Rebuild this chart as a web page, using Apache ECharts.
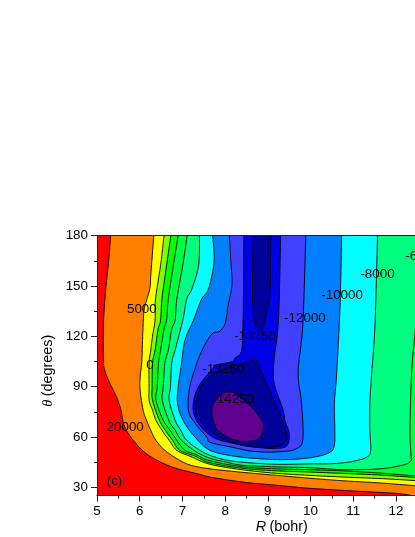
<!DOCTYPE html>
<html><head><meta charset="utf-8">
<style>html,body{margin:0;padding:0;background:#fff;overflow:hidden}#c{width:415px;height:537px}</style>
<script src="https://cdn.jsdelivr.net/npm/echarts@6/dist/echarts.min.js"></script>
</head><body><div id="c"></div>
<script>
// Contours, as [R (bohr), theta (degrees)]
const c20000=[[5.32,180],[5.28,166.7],[5.20,146.4],[5.15,126.7],[5.15,107],[5.18,99.8],[5.30,92.1],[5.46,83.7],[5.56,76],[5.62,68.2],[5.73,62.2],[5.99,53.9],[6.28,47.9],[6.78,41.9],[7.41,37.7],[7.65,36.1],[8.42,33.1],[9.22,31.2],[9.99,29.4],[11.16,27.6],[12.0,26.4],[12.4,25]];
const c5000=[[6.33,180],[6.29,166.7],[6.26,156.5],[6.24,148.8],[6.17,142.2],[6.10,135],[6.07,120.1],[6.05,105.2],[6.01,95.6],[6.01,87.9],[6.08,76],[6.16,70],[6.26,64],[6.38,58],[6.59,52],[6.94,46],[7.22,43],[7.65,41],[8.42,38.9],[9.22,37.1],[9.99,35.4],[10.76,33.9],[11.56,32.7],[12.33,31.2],[13,29.7]];
const c0=[[6.57,180],[6.49,162.5],[6.37,142.2],[6.36,129.7],[6.30,120.1],[6.26,111.8],[6.22,104],[6.22,89.7],[6.22,81.9],[6.30,76],[6.38,70],[6.52,64],[6.69,58],[6.87,52],[7.18,48.5],[7.65,43.7],[8.42,40.4],[9.22,38.3],[9.99,37.1],[10.76,36.1],[11.56,35.3],[12.33,34.2],[13,33]];
const cm2000=[[6.73,180],[6.63,162.5],[6.52,142.2],[6.49,129.7],[6.43,124.3],[6.36,111.8],[6.30,104],[6.29,89.7],[6.30,81.9],[6.46,70],[6.60,64],[6.77,58],[6.94,52],[7.30,48.5],[7.65,44.6],[8.42,41.3],[9.22,39.8],[9.99,39.1],[10.76,38.3],[11.56,37.4],[12.33,36.1],[13,34.7]];
const cm4000=[[6.90,180],[6.79,162.5],[6.67,142.2],[6.63,129.7],[6.57,124.3],[6.49,111.8],[6.44,104],[6.41,89.7],[6.38,81.9],[6.55,70],[6.71,64],[6.87,58],[7.06,52],[7.30,49.7],[7.65,45.8],[8.42,42.2],[9.22,41],[9.99,40.5],[10.76,39.8],[11.56,38.6],[12.33,37.1],[13,36]];
const cm6000=[[7.11,180],[7.01,162.5],[6.87,142.2],[6.83,129.7],[6.75,124.3],[6.67,111.8],[6.59,104],[6.55,89.7],[6.53,81.9],[6.68,70],[6.83,64],[6.98,58],[7.30,51.5],[7.65,47.3],[8.00,45.2],[8.42,43.1],[9.22,42.2],[9.99,41.7],[10.76,40.5],[11.56,40.9],[12.03,42.5],[12.33,45.1],[12.35,50.3],[12.33,64],[12.37,99.8],[12.47,129.7],[12.56,180]];
const cm8000=[[7.40,180],[7.38,162.5],[7.22,148.2],[7.10,142.2],[7.01,129.7],[6.83,111.8],[6.75,104],[6.72,89.7],[6.69,81.9],[6.83,70],[6.96,64],[7.10,58],[7.37,52.7],[7.65,49],[8.00,46.4],[8.42,44.9],[9.22,43.7],[9.99,44],[10.53,44.1],[11.0,45.5],[11.32,48],[11.41,52],[11.39,64],[11.39,80.1],[11.43,96.8],[11.51,126.7],[11.57,180]];
const cm10000=[[7.71,180],[7.74,164.3],[7.61,148.2],[7.45,142.2],[7.26,129.7],[7.06,117.7],[6.98,104],[6.90,89.7],[6.89,78.9],[7.04,68.8],[7.30,59.8],[7.65,52],[8.23,48.5],[8.82,47],[9.40,46.5],[9.99,47.6],[10.39,50.1],[10.55,53.9],[10.57,64],[10.56,80.1],[10.61,96.8],[10.69,136.8],[10.73,180]];
const cm12000=[[8.10,180],[8.13,166.7],[8.16,150.6],[8.07,138.6],[8.01,128.5],[7.88,123.1],[7.72,122],[7.57,117.1],[7.41,108.8],[7.30,101],[7.17,89.7],[7.14,76],[7.30,68.2],[7.57,60],[7.65,56.8],[8.18,53.8],[8.58,51.7],[9.0,51],[9.40,51.5],[9.64,52.7],[9.82,58],[9.79,80.1],[9.71,98.6],[9.82,126.7],[9.89,180]];
const cm13000=[[8.44,180],[8.43,146.4],[8.42,129.7],[8.39,111.8],[8.23,107],[8.15,104.8],[7.76,102.8],[7.72,101],[7.37,89.7],[7.25,77.7],[7.37,68.2],[7.72,59.8],[8.23,56],[8.70,53.9],[9.17,53.2],[9.45,54.8],[9.50,62.2],[9.40,70],[9.36,76],[9.17,89.7],[9.13,96.8],[9.15,107],[9.25,129.7],[9.30,180]];
const cm13250a=[[8.66,180],[8.64,146.4],[8.68,129.7],[8.75,124.9],[8.82,123.7],[8.89,125.5],[8.93,129.7],[9.05,146.4],[9.07,180]];
const cm13250b=[[8.58,105.2],[8.74,105.8],[8.86,97.9],[9.21,77.9],[9.44,62],[9.40,57],[9.13,54],[8.43,55],[7.80,61],[7.41,70],[7.32,80.1],[7.49,91.9],[7.88,99.8],[8.27,102.8]];
const cm14250=[[7.69,76],[7.76,81.3],[7.95,86.1],[8.19,86.7],[8.35,83.7],[8.51,80.1],[8.63,77.7],[8.80,72],[8.90,67],[8.82,59.8],[8.58,57.4],[8.30,57.7],[8.07,59.8],[7.83,64],[7.72,70]];

const cornersBottomRight=[[13,25],[13,180]];
const cornersRight=[[13,180]];
const noCorners=[];

const yTicks=[30,60,90,120,150,180];
const yMinorTicks=[45,75,105,135,165];
const xRange=[5,13];
const yRange=[25,180];

const labelTexts=['20000','5000','0','-13250','-13250','-14250','-12000','-10000','-8000','-6000','(c)'];
const labelR=[5.66,6.05,6.24,8.70,7.96,8.19,9.87,10.74,11.57,12.62,5.41];
const labelTheta=[66,136.2,102.9,120.1,100.4,82.3,130.7,144.4,157,167.5,33.7];

// points, fill, corners, closed loop?
const layers=[
 [c20000,'#ff8000',cornersBottomRight,false],
 [c5000,'#ffff00',cornersRight,false],
 [c0,'#80ff00',cornersRight,false],
 [cm2000,'#00ff00',cornersRight,false],
 [cm4000,'#00ff40',cornersRight,false],
 [cm6000,'#00ff80',noCorners,false],
 [cm8000,'#00ffff',noCorners,false],
 [cm10000,'#0080ff',noCorners,false],
 [cm12000,'#4040ff',noCorners,false],
 [cm13000,'#0000e6',noCorners,false],
 [cm13250a,'#00009a',noCorners,false],
 [cm13250b,'#00009a',noCorners,true],
 [cm14250,'#5f0090',noCorners,true]
];
const FONT='"Liberation Sans",Arial,sans-serif';

function spline(pts,closed){
  const out=[],n=pts.length,steps=6;
  const at=i=>closed?pts[(i+n)%n]:pts[Math.max(0,Math.min(n-1,i))];
  const last=closed?n:n-1;
  for(let i=0;i<last;i++){
    const a=at(i-1),b=at(i),c=at(i+1),d=at(i+2);
    for(let s=0;s<steps;s++){
      const t=s/steps,t2=t*t,t3=t2*t;
      out.push([0,1].map(k=>0.5*(2*b[k]+(c[k]-a[k])*t+(2*a[k]-5*b[k]+4*c[k]-d[k])*t2+(3*b[k]-a[k]-3*c[k]+d[k])*t3)));
    }
  }
  if(!closed)out.push(pts[n-1]);
  return out;
}

const series=layers.map(([points,fill,corners,closed])=>({
  type:'custom',coordinateSystem:'cartesian2d',clip:true,silent:true,
  data:points,encode:{x:0,y:1},
  renderItem(params,api){
    if(params.dataIndex!==0)return null;
    const curve=spline(points.map(p=>api.coord(p)),closed);
    const poly=curve.concat(corners.map(p=>api.coord(p)));
    const children=[{type:'polygon',shape:{points:poly},style:{fill:fill,stroke:null}}];
    children.push({type:closed?'polygon':'polyline',shape:{points:curve},style:{fill:null,stroke:'#000',lineWidth:0.9}});
    return {type:'group',children};
  }
}));

series.push({
  type:'custom',coordinateSystem:'cartesian2d',clip:false,silent:true,z:10,
  data:labelTexts.map((t,i)=>[labelR[i],labelTheta[i],t]),
  encode:{x:0,y:1},
  renderItem(params,api){
    const p=api.coord([api.value(0),api.value(1)]);
    return {type:'text',x:p[0],y:p[1],style:{text:labelTexts[params.dataIndex],fill:'#000',font:'13.4px '+FONT,align:'center',verticalAlign:'middle'}};
  }
});

const chart=echarts.init(document.getElementById('c'),null,{renderer:'canvas',width:415,height:537});
const lineStyle={color:'#222',width:1};
chart.setOption({
  animation:false,
  backgroundColor:'#fff',
  grid:{left:97,top:235.7,width:341.6,height:260,outerBoundsMode:'none',containLabel:false,show:true,backgroundColor:'#ff0000',borderWidth:0},
  xAxis:[{
    type:'value',min:xRange[0],max:xRange[1],interval:1,position:'bottom',z:5,
    axisLine:{show:true,onZero:false,lineStyle},
    axisTick:{show:true,length:6,inside:false,lineStyle},
    minorTick:{show:true,splitNumber:2,length:3,lineStyle},
    splitLine:{show:false},
    axisLabel:{margin:9,color:'#000',fontSize:13.4,fontFamily:FONT,showMaxLabel:false},
    name:'{i|R} {n|(bohr)}',nameLocation:'middle',nameGap:24,
    nameTextStyle:{padding:[0,0,0,28],rich:{i:{fontStyle:'italic',fontSize:14.4,fontFamily:FONT,color:'#000'},n:{fontSize:14.4,fontFamily:FONT,color:'#000'}}}
  },{
    type:'value',min:xRange[0],max:xRange[1],position:'top',z:5,
    axisLine:{show:true,onZero:false,lineStyle},axisTick:{show:false},axisLabel:{show:false},splitLine:{show:false}
  }],
  yAxis:[{
    type:'value',min:yRange[0],max:yRange[1],position:'left',z:5,
    axisLine:{show:true,onZero:false,lineStyle},
    axisTick:{show:true,length:6,customValues:yTicks,lineStyle},
    axisLabel:{margin:9,color:'#000',fontSize:13.4,fontFamily:FONT,customValues:yTicks},
    splitLine:{show:false},
    name:'{i|θ} {n|(degrees)}',nameLocation:'middle',nameGap:26,nameRotate:90,
    nameTextStyle:{padding:[0,10,0,0],rich:{i:{fontStyle:'italic',fontSize:14.4,fontFamily:'"Liberation Serif",serif',color:'#000'},n:{fontSize:14.4,fontFamily:FONT,color:'#000'}}}
  },{
    type:'value',min:yRange[0],max:yRange[1],position:'left',z:5,
    axisLine:{show:false,onZero:false},
    axisTick:{show:true,length:3,customValues:yMinorTicks,lineStyle},
    axisLabel:{show:false},splitLine:{show:false}
  }],
  series
});
</script></body></html>
